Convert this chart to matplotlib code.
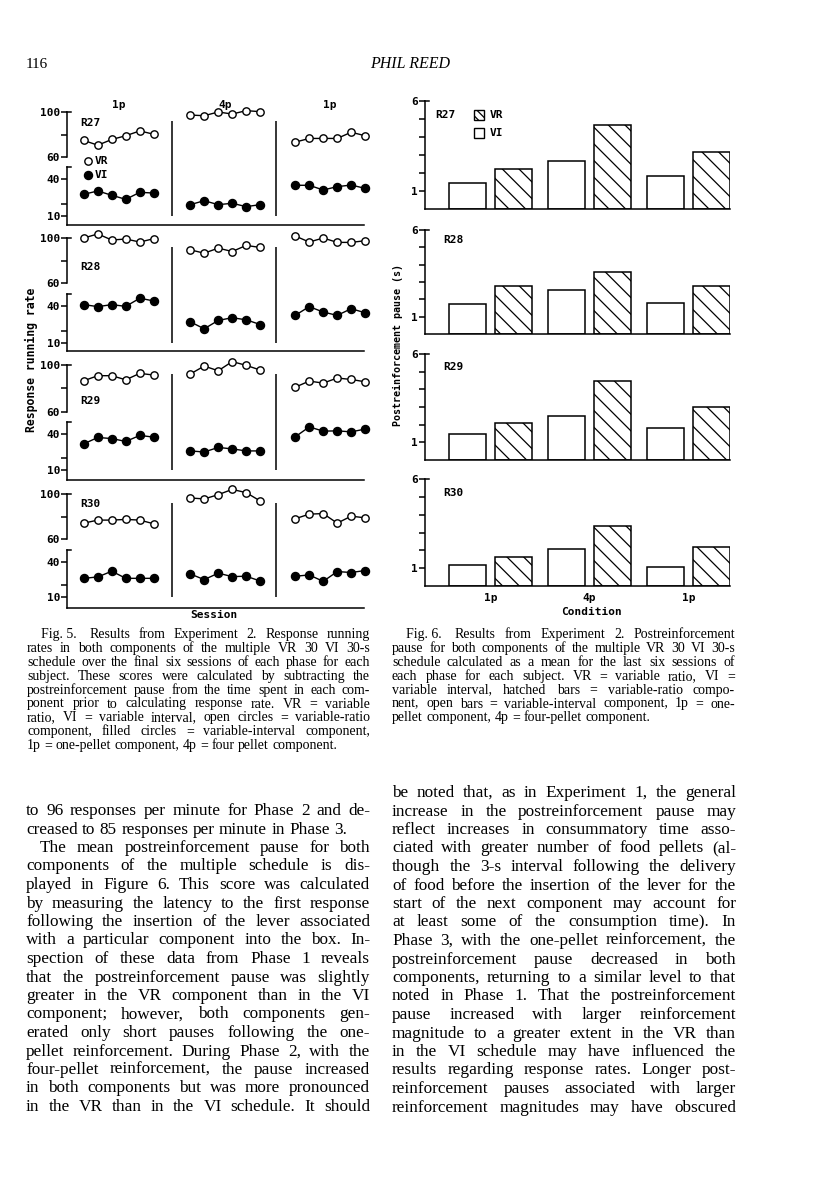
import numpy as np
import matplotlib
matplotlib.use('Agg')
import matplotlib.pyplot as plt
from matplotlib.patches import Rectangle

plt.rcParams['font.family'] = 'DejaVu Sans Mono'
plt.rcParams['font.weight'] = 'bold'
plt.rcParams['hatch.linewidth'] = 0.9

# Fig. 5 - response running rate, 6 sessions in each phase (1p, 4p, 1p)
rats = ['R27', 'R28', 'R29', 'R30']
phases = ['1p', '4p', '1p']

vr_r27 = [74.7, 70.5, 75.6, 78.9, 83.2, 80.2, 97.3, 96.7, 100.0, 98.2, 101.2, 100.3, 73.2, 76.5, 76.5, 76.5, 82.0, 78.9]
vi_r27 = [27.6, 30.3, 26.8, 23.5, 29.2, 28.6, 19.2, 22.4, 19.2, 20.3, 17.6, 19.2, 34.9, 34.9, 31.1, 33.8, 35.1, 32.4]
vr_r28 = [100.0, 103.6, 98.2, 99.1, 96.4, 99.4, 89.5, 86.5, 91.0, 88.0, 93.4, 91.6, 101.8, 96.4, 100.0, 96.1, 96.1, 97.6]
vi_r28 = [41.1, 39.5, 41.1, 39.7, 46.3, 44.1, 27.2, 21.5, 28.3, 30.5, 28.8, 25.0, 32.4, 39.5, 35.1, 32.4, 37.8, 34.5]
vr_r29 = [86.6, 90.9, 90.9, 87.4, 92.9, 91.4, 92.3, 99.1, 95.1, 102.9, 99.7, 95.7, 81.1, 86.3, 84.6, 88.9, 87.7, 85.7]
vi_r29 = [31.8, 37.1, 36.2, 33.8, 38.8, 37.4, 25.9, 25.0, 28.8, 27.6, 25.9, 25.9, 37.6, 45.9, 42.4, 42.6, 41.8, 44.1]
vr_r30 = [74.1, 76.8, 76.8, 77.4, 76.8, 73.5, 96.5, 95.6, 99.4, 104.1, 101.2, 93.8, 78.0, 82.1, 82.6, 74.1, 80.3, 78.8]
vi_r30 = [26.0, 27.2, 32.1, 26.0, 26.0, 26.0, 29.8, 24.9, 30.4, 27.5, 27.8, 23.7, 27.8, 28.9, 23.4, 31.8, 31.0, 32.7]

# Fig. 6 - mean postreinforcement pause (s)
pause_vi_r27 = [1.46, 2.67, 1.82]
pause_vr_r27 = [2.21, 4.66, 3.14]
pause_vi_r28 = [1.75, 2.54, 1.77]
pause_vr_r28 = [2.75, 3.58, 2.77]
pause_vi_r29 = [1.47, 2.50, 1.81]
pause_vr_r29 = [2.12, 4.48, 3.00]
pause_vi_r30 = [1.20, 2.06, 1.09]
pause_vr_r30 = [1.62, 3.39, 2.18]

vr_rate = [vr_r27, vr_r28, vr_r29, vr_r30]
vi_rate = [vi_r27, vi_r28, vi_r29, vi_r30]
pause_vi = [pause_vi_r27, pause_vi_r28, pause_vi_r29, pause_vi_r30]
pause_vr = [pause_vr_r27, pause_vr_r28, pause_vr_r29, pause_vr_r30]

# "|" marks the wide gap after the figure number
cap5 = [' Fig. 5.| Results from Experiment 2. Response running',
        'rates in both components of the multiple VR 30 VI 30-s',
        'schedule over the final six sessions of each phase for each',
        'subject. These scores were calculated by subtracting the',
        'postreinforcement pause from the time spent in each com-',
        'ponent prior to calculating response rate. VR = variable',
        'ratio, VI = variable interval, open circles = variable-ratio',
        'component, filled circles = variable-interval component,',
        '1p = one-pellet component, 4p = four pellet component.']
cap6 = [' Fig. 6.| Results from Experiment 2. Postreinforcement',
        'pause for both components of the multiple VR 30 VI 30-s',
        'schedule calculated as a mean for the last six sessions of',
        'each phase for each subject. VR = variable ratio, VI =',
        'variable interval, hatched bars = variable-ratio compo-',
        'nent, open bars = variable-interval component, 1p = one-',
        'pellet component, 4p = four-pellet component.']
body_left = ['to 96 responses per minute for Phase 2 and de-',
             'creased to 85 responses per minute in Phase 3.',
             ' The mean postreinforcement pause for both',
             'components of the multiple schedule is dis-',
             'played in Figure 6. This score was calculated',
             'by measuring the latency to the first response',
             'following the insertion of the lever associated',
             'with a particular component into the box. In-',
             'spection of these data from Phase 1 reveals',
             'that the postreinforcement pause was slightly',
             'greater in the VR component than in the VI',
             'component; however, both components gen-',
             'erated only short pauses following the one-',
             'pellet reinforcement. During Phase 2, with the',
             'four-pellet reinforcement, the pause increased',
             'in both components but was more pronounced',
             'in the VR than in the VI schedule. It should']
body_right = ['be noted that, as in Experiment 1, the general',
              'increase in the postreinforcement pause may',
              'reflect increases in consummatory time asso-',
              'ciated with greater number of food pellets (al-',
              'though the 3-s interval following the delivery',
              'of food before the insertion of the lever for the',
              'start of the next component may account for',
              'at least some of the consumption time). In',
              'Phase 3, with the one-pellet reinforcement, the',
              'postreinforcement pause decreased in both',
              'components, returning to a similar level to that',
              'noted in Phase 1. That the postreinforcement',
              'pause increased with larger reinforcement',
              'magnitude to a greater extent in the VR than',
              'in the VI schedule may have influenced the',
              'results regarding response rates. Longer post-',
              'reinforcement pauses associated with larger',
              'reinforcement magnitudes may have obscured']

W, H = 816, 1200
fig = plt.figure(figsize=(8.16, 12), dpi=100)

def rect(x0, y0, x1, y1):
    return [x0 / W, 1 - y1 / H, (x1 - x0) / W, (y1 - y0) / H]

page = fig.add_axes([0, 0, 1, 1])
page.set_xlim(0, W)
page.set_ylim(H, 0)
page.axis('off')

def style(ax, spines):
    ax.patch.set_visible(False)
    for k, s in ax.spines.items():
        s.set_visible(k in spines)
        s.set_linewidth(1.1)
    ax.set_xticks([])
    ax.tick_params(which='both', direction='out', length=4, width=1.1,
                   labelsize=8, pad=1)

def top_hook(ax):
    ax.plot([0, 0.013], [1, 1], transform=ax.transAxes, color='k',
            lw=1.1, clip_on=False)

# ---------------- Fig. 5 ----------------
rows5 = [(112, 157, 179, 216, 225), (238, 283, 306, 343, 351),
         (365, 412, 434, 470, 480), (494, 539, 562, 597, 608)]
lab5_y = [123, 267, 401, 504]
x0_5, x1_5, step = 67, 364, 14.0
xmax = (x1_5 - x0_5) / step
grp_start = [1.2, 8.8, 16.3]
seps = [7.5, 14.9]

for i, (y100, y60, y40, y10, yb) in enumerate(rows5):
    up = fig.add_axes(rect(x0_5, y100, x1_5, y60))
    up.set_xlim(0, xmax)
    up.set_ylim(60, 100)
    style(up, ['left'])
    up.set_yticks([60, 100])
    up.set_yticks([80], minor=True)
    top_hook(up)

    s = (y10 - y40) / 30
    ytop = y40 - 12
    lo = fig.add_axes(rect(x0_5, ytop, x1_5, yb))
    lo.set_xlim(0, xmax)
    lo.set_ylim(10 - (yb - y10) / s, 40 + (y40 - ytop) / s)
    style(lo, ['left', 'bottom'])
    lo.set_yticks([10, 40])
    lo.set_yticks([20], minor=True)
    top_hook(lo)
    lo.vlines(seps, 10, 10 + (y10 - y100 - 9) / s, color='k', lw=1.1, clip_on=False)

    for g in range(3):
        xs = grp_start[g] + np.arange(6)
        up.plot(xs, vr_rate[i][g * 6:g * 6 + 6], '-o', color='k', lw=1,
                mfc='white', mec='k', ms=5.3, mew=1, clip_on=False, zorder=3)
        lo.plot(xs, vi_rate[i][g * 6:g * 6 + 6], '-o', color='k', lw=1,
                mfc='k', ms=5.8, clip_on=False, zorder=3)
    page.text(80, lab5_y[i], rats[i], fontsize=8, va='center')

for g in range(3):
    page.text(x0_5 + (grp_start[g] + 2.5) * step, 105, phases[g], fontsize=8,
              ha='center', va='center')
page.plot(88, 161, 'o', mfc='white', mec='k', ms=5.3, mew=1)
page.plot(88, 175, 'o', mfc='k', mec='k', ms=5.8)
page.text(95, 161, 'VR', fontsize=8, va='center')
page.text(95, 175, 'VI', fontsize=8, va='center')
page.text(214, 615, 'Session', fontsize=8, ha='center', va='center')
page.text(31, 360, 'Response running rate', fontsize=8.3, rotation=90,
          ha='center', va='center')

# ---------------- Fig. 6 ----------------
rows6 = [(101, 209), (230, 334), (354, 460), (479, 586)]
lab6 = [(435, 115), (443, 240), (443, 367), (443, 493)]
centers = np.arange(1, 4)
for i, (y6, y0) in enumerate(rows6):
    ax = fig.add_axes(rect(425, y6, 730, y0))
    ax.set_xlim(0.338, 3.42)
    ax.set_ylim(0, 6)
    style(ax, ['left', 'bottom'])
    ax.set_yticks([1, 6])
    ax.set_yticks([2, 3, 4, 5], minor=True)
    top_hook(ax)
    ax.bar(centers - 0.23, pause_vi[i], 0.37, facecolor='white', edgecolor='k', lw=1.1)
    ax.bar(centers + 0.23, pause_vr[i], 0.37, facecolor='white', edgecolor='k',
           lw=1.1, hatch='\\\\')
    page.text(lab6[i][0], lab6[i][1], rats[i], fontsize=8, va='center')
    if i == 3:
        ax.set_xticks(centers, phases)
        ax.tick_params(axis='x', length=0, pad=5, labelsize=8)

page.add_patch(Rectangle((474, 110), 10, 10, facecolor='white', edgecolor='k',
                         lw=1, hatch='\\\\\\\\'))
page.add_patch(Rectangle((474, 128), 10, 10, facecolor='white', edgecolor='k', lw=1))
page.text(490, 115, 'VR', fontsize=8, va='center')
page.text(490, 133, 'VI', fontsize=8, va='center')
page.text(592, 612, 'Condition', fontsize=8, ha='center', va='center')
page.text(398, 345, 'Postreinforcement pause (s)', fontsize=7.2, rotation=90,
          ha='center', va='center')

# ---------------- page text ----------------
rend = fig.canvas.get_renderer()
SERIF = 'Liberation Serif'

def block(lines, x, y, width, dy, size, ends=(), indent=14):
    for i, line in enumerate(lines):
        xx = x + (indent if line.startswith(' ') else 0)
        extra = 0
        if '|' in line:
            head, line = line.split('|')
            t = page.text(xx, y + i * dy, head.strip(), family=SERIF,
                          fontweight='normal', fontsize=size)
            xx += t.get_window_extent(rend).width + size * 1.3
        words = line.strip().split()
        fs = size
        while True:
            arts = [page.text(0, y + i * dy, w, family=SERIF,
                              fontweight='normal', fontsize=fs) for w in words]
            widths = [a.get_window_extent(rend).width for a in arts]
            room = x + width - xx - sum(widths)
            if i in ends or len(words) < 2 or room / (len(words) - 1) > 2.2:
                break
            for a in arts:
                a.remove()
            fs -= 0.2
        if i in ends or len(words) < 2:
            gap = fs * 0.35
        else:
            gap = room / (len(words) - 1)
        for a, w in zip(arts, widths):
            a.set_x(xx)
            xx += w + gap

page.text(26, 68, '116', family=SERIF, fontweight='normal', fontsize=11)
page.text(410, 68, 'PHIL REED', family=SERIF, fontweight='normal',
          style='italic', fontsize=11.5, ha='center')

block(cap5, 27, 638, 343, 13.9, 10, ends=(8,))
block(cap6, 392, 638, 343, 13.9, 10, ends=(6,))
block(body_left, 26, 815, 344, 18.5, 12.4, ends=(1,))
block(body_right, 392, 797, 344, 18.5, 12.4)

fig.savefig('out.png', dpi=100)
